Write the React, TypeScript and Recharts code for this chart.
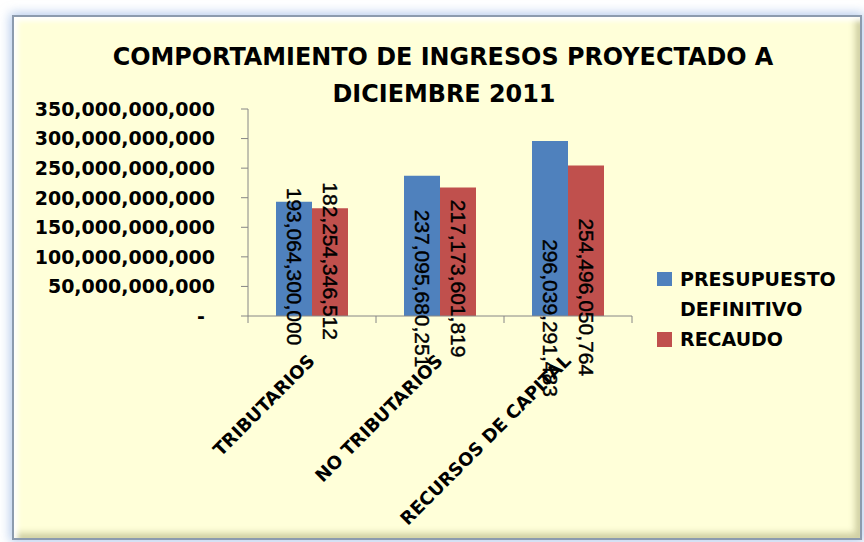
import { BarChart, Bar, XAxis, YAxis, LabelList } from 'recharts';

const categories = ['TRIBUTARIOS', 'NO TRIBUTARIOS', 'RECURSOS DE CAPITAL'];
const presupuesto = [193064300000, 237095680251, 296039291483];
const recaudo = [182254346512, 217173601819, 254496050764];
const seriesNames = ['PRESUPUESTO DEFINITIVO', 'RECAUDO'];
const seriesColors = ['#4F81BD', '#C0504D'];
const yTicks = [0, 50e9, 100e9, 150e9, 200e9, 250e9, 300e9, 350e9];
const titleLines = ['COMPORTAMIENTO DE INGRESOS PROYECTADO A', 'DICIEMBRE 2011'];

const data = categories.map((name, i) => ({
  name,
  presupuesto: presupuesto[i],
  recaudo: recaudo[i],
}));

// plot box inside the 864x542 picture
const PLOT = { left: 248, top: 109, right: 632, bottom: 316 };
const BOLD = { fontFamily: 'DejaVu Sans', fontWeight: 'bold' as const, fill: '#000' };
const AXIS = '#868686';

const fmt = (v: number) => v.toLocaleString('en-US');

function YTick({ x, y, payload }: any) {
  const v = payload.value;
  return (
    <text x={v === 0 ? x - 34 : x - 24} y={y} dy="0.36em" textAnchor="end" fontSize={19} {...BOLD}>
      {v === 0 ? '-' : fmt(v)}
    </text>
  );
}

function XTick({ x, y, payload, index }: any) {
  const half = (PLOT.right - PLOT.left) / categories.length / 2;
  return (
    <g>
      <line x1={x - half} y1={y} x2={x - half} y2={y + 7} stroke={AXIS} />
      {index === categories.length - 1 && (
        <line x1={x + half} y1={y} x2={x + half} y2={y + 7} stroke={AXIS} />
      )}
      <text
        transform={`translate(${x + 4},${y + 46}) rotate(-45)`}
        textAnchor="end"
        fontSize={18}
        {...BOLD}
      >
        {payload.value}
      </text>
    </g>
  );
}

// rotated value labels, placed roughly where Excel dropped them
function ValueLabel({ x, y, width, height, value }: any) {
  const cx = x + width / 2;
  const bottom = y + height;
  const cy = bottom - 0.705 * (PLOT.bottom - PLOT.top) + 0.845 * height;
  return (
    <text
      transform={`translate(${cx},${cy}) rotate(90)`}
      textAnchor="middle"
      dominantBaseline="central"
      fontFamily="Liberation Sans"
      fontSize={21}
      fill="#000"
      stroke="#000"
      strokeWidth={0.4}
    >
      {fmt(value)}
    </text>
  );
}

export default function App() {
  return (
    <div style={{ position: 'absolute', left: 0, top: 0, width: 864, height: 542, background: '#fff' }}>
      <div
        style={{
          position: 'absolute',
          left: 12,
          top: 15,
          width: 846,
          height: 521,
          background: '#FFFFD9',
          border: '2px solid #8C9BAE',
          boxShadow:
            '0 0 10px 2px rgba(120,160,220,0.55), inset 4px 4px 5px rgba(255,255,255,0.95), inset -5px -5px 6px rgba(150,150,100,0.45)',
        }}
      />
      <div style={{ position: 'absolute', left: 0, top: 0 }}>
        <BarChart
          width={864}
          height={542}
          data={data}
          margin={{ top: PLOT.top, right: 864 - PLOT.right, bottom: 542 - PLOT.bottom - 60, left: 0 }}
          barCategoryGap="21.875%"
          barGap={0}
        >
          <XAxis
            dataKey="name"
            height={60}
            interval={0}
            tickSize={0}
            tickMargin={0}
            tickLine={false}
            axisLine={{ stroke: AXIS }}
            tick={<XTick />}
          />
          <YAxis
            width={PLOT.left}
            domain={[0, 350e9]}
            ticks={yTicks}
            interval={0}
            tickSize={7}
            tickMargin={2}
            axisLine={{ stroke: AXIS }}
            tickLine={{ stroke: AXIS }}
            tick={<YTick />}
          />
          <Bar dataKey="presupuesto" name={seriesNames[0]} fill={seriesColors[0]} isAnimationActive={false}>
            <LabelList dataKey="presupuesto" content={<ValueLabel />} />
          </Bar>
          <Bar dataKey="recaudo" name={seriesNames[1]} fill={seriesColors[1]} isAnimationActive={false}>
            <LabelList dataKey="recaudo" content={<ValueLabel />} />
          </Bar>
        </BarChart>
      </div>
      <svg width={864} height={542} style={{ position: 'absolute', left: 0, top: 0, pointerEvents: 'none' }}>
        <text x={443} y={65} textAnchor="middle" fontSize={23.9} {...BOLD}>{titleLines[0]}</text>
        <text x={444} y={102} textAnchor="middle" fontSize={23.9} {...BOLD}>{titleLines[1]}</text>
        {/* legend */}
        <rect x={657} y={272} width={15} height={14} fill={seriesColors[0]} />
        <text x={680} y={286} fontSize={19} {...BOLD}>{seriesNames[0].split(' ')[0]}</text>
        <text x={680} y={316} fontSize={19} {...BOLD}>{seriesNames[0].split(' ')[1]}</text>
        <rect x={657} y={332} width={15} height={15} fill={seriesColors[1]} />
        <text x={680} y={346} fontSize={19} {...BOLD}>{seriesNames[1]}</text>
      </svg>
    </div>
  );
}
